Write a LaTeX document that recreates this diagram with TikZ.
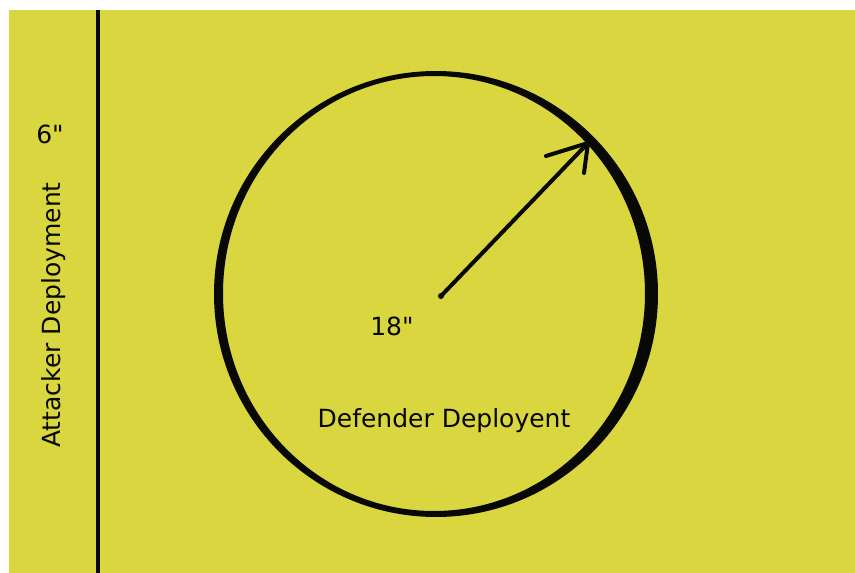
\documentclass[tikz,border=0pt]{standalone}
\usepackage{fontspec}
\usepackage{tikz}
\usetikzlibrary{arrows.meta,positioning}
\newfontfamily\zonefont{DejaVu Sans}
\definecolor{table}{RGB}{217,214,63}
\definecolor{ink}{RGB}{8,8,6}

\begin{document}
\begin{tikzpicture}[x=1pt,y=-1pt,
          lbl/.style={font={\zonefont\fontsize{25}{30}\selectfont},text=ink,inner sep=0pt,anchor=base},
          pen/.style={ink,line width=4pt,line cap=round}]
        \useasboundingbox (0,0) rectangle (855,573);
        \fill[white] (0,0) rectangle (855,573);
        \fill[table] (9,10) rectangle (855,573);
        % attacker edge
        \coordinate (et) at (98,10);
        \coordinate (eb) at (98,573);
        \draw[ink,line width=4pt] (et) -- (eb);
        \node[lbl] (six) at (50,143) {6"};
        \node[lbl,rotate=90] (atk) at (60,315) {Attacker Deployment};
        % defender circle
        \fill[ink,even odd rule] (436,294) ellipse [x radius=222pt,y radius=223pt]
                                 (434,293.5) ellipse [x radius=211pt,y radius=217.5pt];
        \coordinate (ctr) at (441,296);
        \coordinate (tip) at (588,143);
        \coordinate (bl) at (546,156);
        \coordinate (br) at (584,173);
        \fill[ink] (ctr) circle (3pt);
        \draw[pen] (ctr) -- (tip);
        \draw[pen] (bl) -- (tip) -- (br);
        \node[lbl] (rad) at (392,335) {18"};
        \node[lbl] (def) at (444,427) {Defender Deployent};
      \end{tikzpicture}
\end{document}
